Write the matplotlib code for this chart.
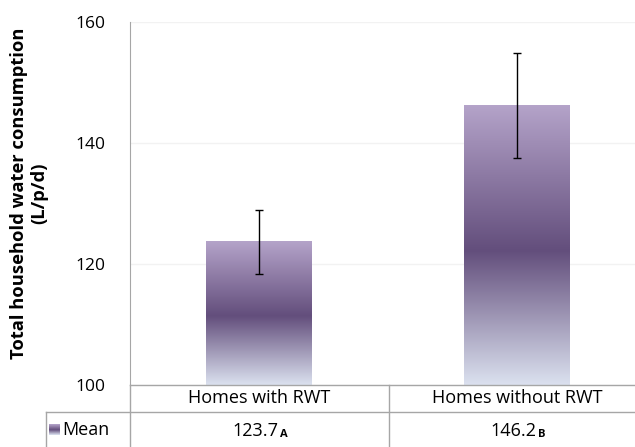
import matplotlib.pyplot as plt
import numpy as np
from matplotlib.colors import LinearSegmentedColormap
from matplotlib.lines import Line2D

# data
categories = ['Homes with RWT', 'Homes without RWT']
means = [123.7, 146.2]
errors = [5.3, 8.6]
groups = ['A', 'B']
series_name = 'Mean'

plt.rcParams['font.family'] = ['Open Sans', 'DejaVu Sans']

W, H = 635, 447
fig = plt.figure(figsize=(W / 100, H / 100), dpi=100)

def fx(px):
    return px / W

def fy(py):
    return 1 - py / H

# plot area runs past the right edge, as in the reference
ax = fig.add_axes([fx(130), fy(385), 516 / W, 363 / H])
ax.set_yticks([100, 120, 140, 160])
ax.tick_params(axis='y', length=0, pad=18, labelsize=12.5, labelcolor='#000000')
ax.set_xticks([])
for s in ['top', 'right', 'bottom']:
    ax.spines[s].set_visible(False)
ax.spines['left'].set_color('#a6a6a6')
ax.grid(axis='y', color='#f2f2f2', linewidth=1)
ax.set_axisbelow(True)

cmap = LinearSegmentedColormap.from_list(
    'bar', [(0, '#b4a3c9'), (0.52, '#634e7c'), (1, '#dbe1ef')])
grad = np.linspace(0, 1, 256).reshape(-1, 1)
bw = 0.41
x = np.arange(len(categories))
for i, m in enumerate(means):
    ax.imshow(grad, cmap=cmap, aspect='auto',
              extent=(x[i] - bw / 2, x[i] + bw / 2, 100, m), zorder=2)
ax.set_xlim(-0.5, 1.5)
ax.set_ylim(100, 160)
ax.errorbar(x, means, yerr=errors, fmt='none', ecolor='#000000',
            elinewidth=1, capsize=3, capthick=1, zorder=3)

fig.text(fx(29), fy(193), 'Total household water consumption\n(L/p/d)',
         rotation=90, ha='center', va='center', fontsize=13.2,
         fontweight='bold', multialignment='center', linespacing=1.15)

# data table below the axis
lc = '#a6a6a6'
def hline(y, x0, x1):
    fig.add_artist(Line2D([fx(x0), fx(x1)], [fy(y), fy(y)], color=lc, lw=1))

def vline(xp, y0, y1):
    fig.add_artist(Line2D([fx(xp), fx(xp)], [fy(y0), fy(y1)], color=lc, lw=1))

hline(385, 130, 646)
hline(412, 46, 646)
vline(130, 385, 447)
vline(389, 385, 447)
vline(46, 412, 447)

cat_x = [259, 517]
for i, c in enumerate(categories):
    fig.text(fx(cat_x[i]), fy(398), c, ha='center', va='center', fontsize=13)
    t = fig.text(fx(cat_x[i] - 4), fy(430), '%.1f' % means[i], ha='center',
                 va='baseline', fontsize=13)
    ax.annotate(groups[i], xy=(1, 0), xycoords=t, xytext=(1.5, 0),
                textcoords='offset points', fontsize=8, fontweight='bold',
                va='bottom', ha='left')
    t.set_y(fy(436))

key = np.linspace(0, 0.6, 32).reshape(-1, 1)
kax = fig.add_axes([fx(49), fy(435), 11 / W, 11 / H])
kax.imshow(key, cmap=cmap, aspect='auto')
kax.axis('off')
fig.text(fx(62), fy(430), series_name, ha='left', va='center', fontsize=13)

fig.savefig('out.png', dpi=100)
